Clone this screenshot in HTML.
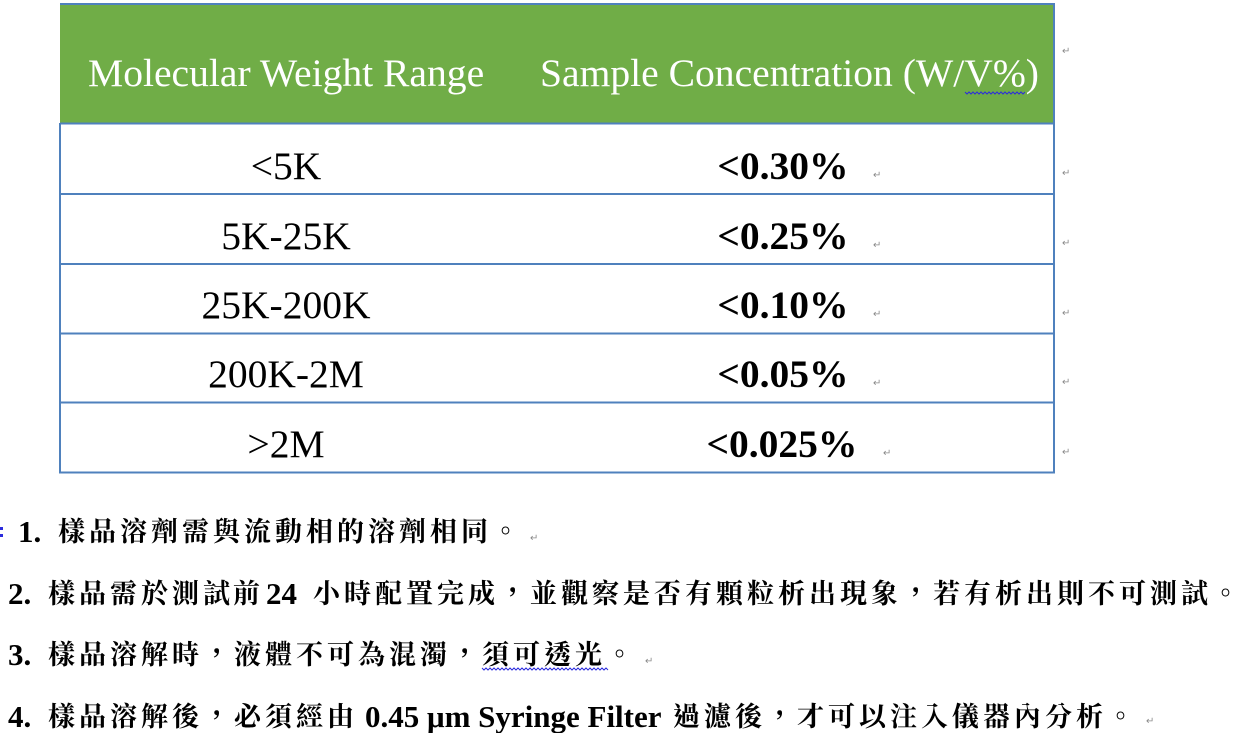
<!DOCTYPE html>
<html lang="zh-Hant">
<head>
<meta charset="utf-8">
<style>
  html,body{margin:0;padding:0;background:#fff;}
  body{width:1240px;height:733px;overflow:hidden;}
  svg{display:block;}
  .hd{font-family:"Liberation Serif","Times New Roman",serif;font-size:39.6px;fill:#fff;}
  .c1{font-family:"Liberation Serif","Times New Roman",serif;font-size:39.5px;fill:#000;}
  .c2{font-family:"Liberation Serif","Times New Roman",serif;font-size:39.5px;font-weight:bold;fill:#000;}
  .rt{font-family:"DejaVu Sans",sans-serif;font-size:10px;fill:#8a8a8a;}
  .num{font-family:"Liberation Serif",serif;font-size:31px;font-weight:bold;fill:#000;}
  .cj{font-family:"Liberation Serif","Noto Serif CJK TC","Noto Serif CJK SC","Noto Sans CJK TC",serif;font-size:27px;font-weight:bold;fill:#000;}
</style>
</head>
<body>
<svg width="1240" height="733" viewBox="0 0 1240 733" xmlns="http://www.w3.org/2000/svg">
  <!-- header background -->
  <rect x="60" y="4" width="994" height="119" fill="#70AD47"/>
  <!-- borders -->
  <g stroke="#4F81BD" stroke-width="2" fill="none">
    <line x1="60" y1="4" x2="1055" y2="4"/>
    <line x1="60" y1="123.5" x2="1055" y2="123.5"/>
    <line x1="60" y1="194" x2="1055" y2="194"/>
    <line x1="60" y1="264" x2="1055" y2="264"/>
    <line x1="60" y1="333.5" x2="1055" y2="333.5"/>
    <line x1="60" y1="402.5" x2="1055" y2="402.5"/>
    <line x1="60" y1="472.5" x2="1055" y2="472.5"/>
    <line x1="60" y1="123" x2="60" y2="473.5"/>
    <line x1="1054" y1="3" x2="1054" y2="473.5"/>
  </g>

  <!-- header text -->
  <text class="hd" x="88" y="86">Molecular Weight Range</text>
  <text class="hd" x="540" y="86">Sample Concentration (W/V%)</text>
  <polyline fill="none" stroke="#2b2bdd" stroke-width="1" points="965,92 967,94 969,92 971,94 973,92 975,94 977,92 979,94 981,92 983,94 985,92 987,94 989,92 991,94 993,92 995,94 997,92 999,94 1001,92 1003,94 1005,92 1007,94 1009,92 1011,94 1013,92 1015,94 1017,92 1019,94 1021,92 1023,94 1025,92"/>

  <!-- body left column -->
  <text class="c1" x="286" y="179" text-anchor="middle">&lt;5K</text>
  <text class="c1" x="286" y="249" text-anchor="middle">5K-25K</text>
  <text class="c1" x="286" y="318" text-anchor="middle">25K-200K</text>
  <text class="c1" x="286" y="387" text-anchor="middle">200K-2M</text>
  <text class="c1" x="286" y="457" text-anchor="middle">&gt;2M</text>

  <!-- body right column -->
  <text class="c2" x="783" y="179" text-anchor="middle">&lt;0.30%</text>
  <text class="c2" x="783" y="249" text-anchor="middle">&lt;0.25%</text>
  <text class="c2" x="783" y="318" text-anchor="middle">&lt;0.10%</text>
  <text class="c2" x="783" y="387" text-anchor="middle">&lt;0.05%</text>
  <text class="c2" x="782" y="457" text-anchor="middle">&lt;0.025%</text>

  <!-- return marks -->
  <text class="rt" x="873" y="178">↵</text>
  <text class="rt" x="873" y="248">↵</text>
  <text class="rt" x="873" y="317">↵</text>
  <text class="rt" x="873" y="386">↵</text>
  <text class="rt" x="883" y="456">↵</text>
  <text class="rt" x="1062" y="54">↵</text>
  <text class="rt" x="1062" y="176">↵</text>
  <text class="rt" x="1062" y="246">↵</text>
  <text class="rt" x="1062" y="316">↵</text>
  <text class="rt" x="1062" y="385">↵</text>
  <text class="rt" x="1062" y="455">↵</text>

  <!-- left blue marker -->
  <rect x="0" y="527" width="3" height="3" fill="#2b2bdd"/>
  <rect x="0" y="534" width="3" height="3" fill="#2b2bdd"/>

  <!-- list -->
  <text class="num" x="18" y="542">1.</text>
  <text class="cj" y="541" x="58 89 120 151 182 213 244 275 306 337 368 399 430 461 492">樣品溶劑需與流動相的溶劑相同。</text>
  <text class="rt" x="530" y="541">↵</text>

  <text class="num" x="8" y="604">2.</text>
  <text class="cj" y="603" x="48 79 110 141 172 203 233">樣品需於測試前</text>
  <text class="num" x="266" y="604">24</text>
  <text class="cj" y="603" x="313 344 375 406 437 468 499 530 561 592 623 654 685 716 747 778 809 840 871 902 933 964 995 1026 1057 1088 1119 1150 1181 1212">小時配置完成，並觀察是否有顆粒析出現象，若有析出則不可測試。</text>

  <text class="num" x="8" y="665">3.</text>
  <text class="cj" y="664" x="48 79 110 141 172 203 234 265 296 327 358 389 420 451 482 513 544 575 606">樣品溶解時，液體不可為混濁，須可透光。</text>
  <text class="rt" x="645" y="664">↵</text>
  <polyline fill="none" stroke="#2b2bdd" stroke-width="1" points="482,668 484,670 486,668 488,670 490,668 492,670 494,668 496,670 498,668 500,670 502,668 504,670 506,668 508,670 510,668 512,670 514,668 516,670 518,668 520,670 522,668 524,670 526,668 528,670 530,668 532,670 534,668 536,670 538,668 540,670 542,668 544,670 546,668 548,670 550,668 552,670 554,668 556,670 558,668 560,670 562,668 564,670 566,668 568,670 570,668 572,670 574,668 576,670 578,668 580,670 582,668 584,670 586,668 588,670 590,668 592,670 594,668 596,670 598,668 600,670 602,668 604,670 606,668 608,670"/>

  <text class="num" x="8" y="727">4.</text>
  <text class="cj" y="726" x="48 79 110 141 172 203 234 265 296 327">樣品溶解後，必須經由</text>
  <text class="num" x="365" y="727">0.45 μm Syringe Filter</text>
  <text class="cj" y="726" x="673 704 735 766 797 828 859 890 921 952 983 1014 1045 1076 1107">過濾後，才可以注入儀器內分析。</text>
  <text class="rt" x="1146" y="724">↵</text>
</svg>
</body>
</html>
